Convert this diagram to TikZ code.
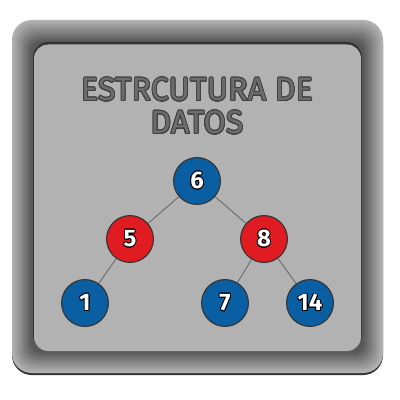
\documentclass[tikz,border=0pt]{standalone}
\usepackage{fontspec}
\setmainfont{Fira Sans}
\usepackage[copies]{contour}
\usetikzlibrary{positioning}

\definecolor{nodeblue}{HTML}{0A5FA3}
\definecolor{nodered}{HTML}{E01B22}
\definecolor{panelgray}{HTML}{B2B2B2}
\definecolor{titlegray}{HTML}{6C6C6C}
\contourlength{0.6pt}

\begin{document}
\begin{tikzpicture}[
      x=0.025cm, y=-0.025cm,
      num/.style={circle, draw=black!80, line width=0.8pt, fill=#1, minimum size=1.17cm, inner sep=0pt, font=\fontsize{17}{17}\selectfont\bfseries, text=white},
      edge/.style={draw=black!60, line width=0.6pt},
      title/.style={font=\fontsize{23}{27}\selectfont, text=titlegray, align=center}
    ]
      \useasboundingbox (0,0) rectangle (400,400);
      % frame
      \fill[black!80, rounded corners=14] (12,24) rectangle (383,375);
      \foreach \i in {0,...,11}{
        \pgfmathsetmacro{\shade}{30+3.2*\i}
        \fill[black!\shade, rounded corners=14-\i*0.6] (12+\i*1.7,20+\i*1.9) rectangle (383-\i*1.7,373-\i*1.8);
      }
      % panel
      \fill[black!80, rounded corners=11] (33,42) rectangle (362,350);
      \fill[panelgray, rounded corners=10] (34,44.5) rectangle (361,351);

      \node[title] (T1) at (197,90) {\contour{black!75}{ESTRCUTURA DE}};
      \node[title] (T2) at (197,123) {\contour{black!75}{DATOS}};

      \node[num=nodeblue] (A) at (197,181) {\contour{black}{6}};
      \node[num=nodered] (B) at (130,239) {\contour{black}{5}};
      \node[num=nodered] (C) at (264,239) {\contour{black}{8}};
      \node[num=nodeblue] (D) at (85,303) {\contour{black}{1}};
      \node[num=nodeblue] (E) at (225,303) {\contour{black}{7}};
      \node[num=nodeblue] (F) at (310,303) {\contour{black}{14}};

      \draw[edge] (A) -- (B);
      \draw[edge] (A) -- (C);
      \draw[edge] (B) -- (D);
      \draw[edge] (C) -- (E);
      \draw[edge] (C) -- (F);
    \end{tikzpicture}
\end{document}
